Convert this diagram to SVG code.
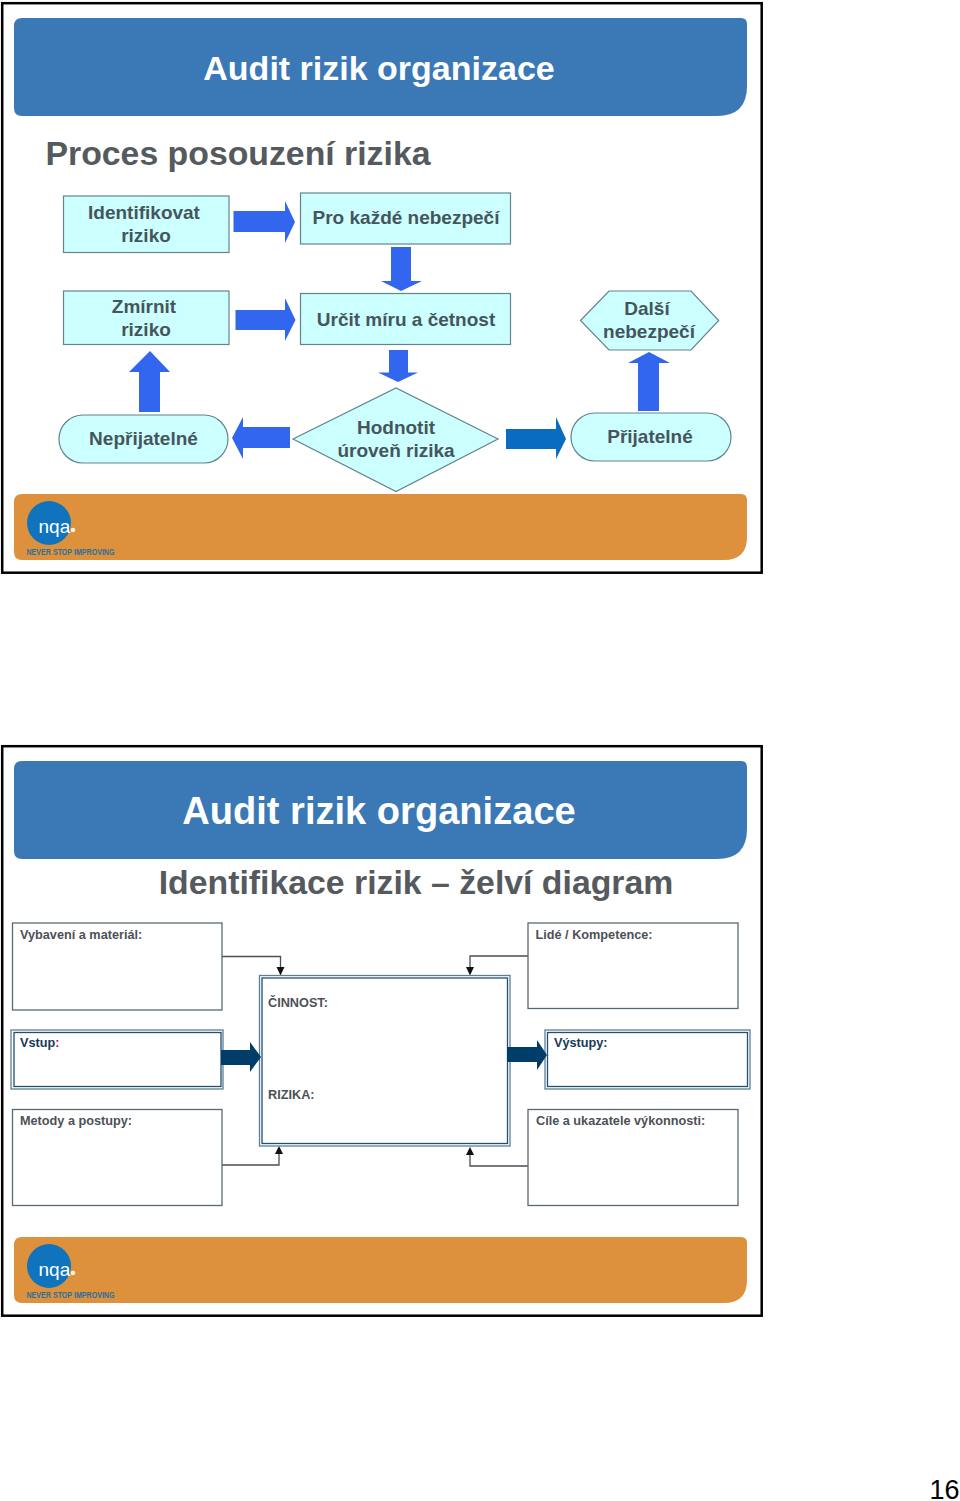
<svg xmlns="http://www.w3.org/2000/svg" width="960" height="1501" viewBox="0 0 960 1501">
<style>
text{font-family:"Liberation Sans",Arial,sans-serif}
.frame{fill:#fff;stroke:#000;stroke-width:2.5}
.hdr{fill:#3a78b6}
.ftr{fill:#dd913c}
.title{fill:#fff;font-weight:700;text-anchor:middle}
.sub{fill:#555a5e;font-weight:700;text-anchor:middle}
.n{fill:#ccffff;stroke:#64848a;stroke-width:1.2}
.t{fill:#46555c;font-size:19px;font-weight:700;text-anchor:middle}
.a{fill:#3366ee}
.d{fill:#003d68}
.b{fill:#fff;stroke:#5a6a74;stroke-width:1.3}
.dbl{fill:#fff;stroke:#1f4f74;stroke-width:1.3}
.dblo{fill:#fff;stroke:#5d7f93;stroke-width:1.3}
.s{fill:#4d5156;font-size:12.700px;font-weight:700}
.c{fill:none;stroke:#4a4f55;stroke-width:1.3}
.logo{fill:#0f74bd}
.lt{fill:#fff;font-size:19px}
.tag{fill:#27709f;font-size:9px;font-weight:700}
</style>
<defs>
<g id="logo">
<circle class="logo" cx="49" cy="523" r="22"/>
<text class="lt" x="38.500" y="533">nqa</text>
<circle cx="73" cy="530" r="2.300" fill="#fff4dc"/>
<text class="tag" x="26.500" y="554.500" textLength="88" lengthAdjust="spacingAndGlyphs">NEVER STOP IMPROVING</text>
</g>
</defs>

<g id="slide-1">
<rect class="frame" x="2.200" y="3.200" width="759.500" height="569.500"/>
<path class="hdr" d="M22 18H741Q747 18 747 24V86Q747 116 717 116H22Q14 116 14 108V26Q14 18 22 18Z"/>
<text class="title" x="379" y="80" font-size="34">Audit rizik organizace</text>
<text class="sub" x="238" y="164.500" font-size="33.800">Proces posouzení rizika</text>
<path class="ftr" d="M22 494H741Q747 494 747 500V537Q747 560 724 560H22Q14 560 14 552V502Q14 494 22 494Z"/>
<use href="#logo"/>
</g>

<g id="connectors-1">
<polygon class="a" points="233.500,211 285,211 285,201 295,222 285,243 285,232 233.500,232"/>
<polygon class="a" points="235.500,310 285,310 285,298 295.500,320 285,341 285,330 235.500,330"/>
<polygon class="a" points="391,247 411,247 411,281 422,281 401,291 381,281 391,281"/>
<polygon class="a" points="389,350 408,350 408,372.500 418,372.500 398,382 378,372.500 389,372.500"/>
<polygon class="a" points="139,412 160,412 160,372 170,372 150,351 129,372 139,372"/>
<polygon class="a" points="290,427 243,427 243,417 232,438 243,459 243,448 290,448"/>
<polygon fill="#0a6cc0" points="506,429 556,429 556,417 566,439 556,459 556,449 506,449"/>
<polygon class="a" points="638,411 659,411 659,363 670,363 649,352 628,363 638,363"/>
</g>

<g id="n-identifikovat"><rect class="n" x="63.500" y="196" width="165.500" height="56.500"/><text class="t" x="144" y="219">Identifikovat</text><text class="t" x="146" y="242">riziko</text></g>
<g id="n-pro-kazde"><rect class="n" x="300.500" y="193" width="210" height="51"/><text class="t" x="406" y="224">Pro každé nebezpečí</text></g>
<g id="n-zmirnit"><rect class="n" x="63.500" y="291" width="165.500" height="53.500"/><text class="t" x="144" y="313">Zmírnit</text><text class="t" x="146" y="336">riziko</text></g>
<g id="n-urcit"><rect class="n" x="300.500" y="293.500" width="210" height="51"/><text class="t" x="406" y="325.500">Určit míru a četnost</text></g>
<g id="n-dalsi"><polygon class="n" points="580.500,320.500 609,291 691,291 718.700,320.500 691,350 609,350"/><text class="t" x="647" y="315">Další</text><text class="t" x="649" y="338">nebezpečí</text></g>
<g id="n-neprijatelne"><rect class="n" x="59" y="415" width="169" height="48" rx="24"/><text class="t" x="143.500" y="445">Nepřijatelné</text></g>
<g id="n-hodnotit"><polygon class="n" points="293,439 396,388 498,439 396,491.500"/><text class="t" x="396" y="434">Hodnotit</text><text class="t" x="396" y="457">úroveň rizika</text></g>
<g id="n-prijatelne"><rect class="n" x="571" y="413" width="160" height="48" rx="24"/><text class="t" x="650" y="443">Přijatelné</text></g>

<g id="slide-2">
<rect class="frame" x="2.200" y="746.200" width="759.500" height="569.500"/>
<path class="hdr" d="M22 761H741Q747 761 747 767V829Q747 859 717 859H22Q14 859 14 851V769Q14 761 22 761Z"/>
<text class="title" x="379" y="824" font-size="38.100">Audit rizik organizace</text>
<text class="sub" x="416" y="893.500" font-size="33.800">Identifikace rizik – želví diagram</text>
<path class="ftr" d="M22 1237H741Q747 1237 747 1243V1280Q747 1303 724 1303H22Q14 1303 14 1295V1245Q14 1237 22 1237Z"/>
<use href="#logo" y="743"/>
</g>

<g id="connectors-2">
<polyline class="c" points="222,956.500 280.500,956.500 280.500,968"/>
<polygon fill="#111" points="276.500,967 284.500,967 280.500,975.500"/>
<polyline class="c" points="528,956 470,956 470,968"/>
<polygon fill="#111" points="466,967 474,967 470,975.500"/>
<polyline class="c" points="222,1165 279,1165 279,1153"/>
<polygon fill="#111" points="275,1154 283,1154 279,1146"/>
<polyline class="c" points="528,1166 470,1166 470,1154"/>
<polygon fill="#111" points="466,1155 474,1155 470,1147"/>
</g>

<g id="n-vybaveni"><rect class="b" x="12.500" y="923" width="209.500" height="87"/><text class="s" x="20" y="939">Vybavení a materiál:</text></g>
<g id="n-lide"><rect class="b" x="528" y="923" width="210" height="85.500"/><text class="s" x="535.500" y="939">Lidé / Kompetence:</text></g>
<g id="n-vstup"><rect class="dblo" x="11" y="1030" width="212" height="59"/><rect class="dbl" x="14" y="1032.500" width="207" height="54"/><text class="s" x="20" y="1047"><tspan style="fill:#16395a">Vstup</tspan><tspan style="fill:#d0202a">:</tspan></text></g>
<g id="n-vystupy"><rect class="dblo" x="545" y="1030" width="205" height="59"/><rect class="dbl" x="547.500" y="1032.500" width="200" height="54"/><text class="s" x="554" y="1047" style="fill:#16395a">Výstupy:</text></g>
<g id="n-metody"><rect class="b" x="12.500" y="1109.500" width="209.500" height="96"/><text class="s" x="20" y="1125">Metody a postupy:</text></g>
<g id="n-cile"><rect class="b" x="528" y="1109.500" width="210" height="96"/><text class="s" x="536" y="1125">Cíle a ukazatele výkonnosti:</text></g>
<g id="n-cinnost"><rect class="dblo" x="259.500" y="975.500" width="250.500" height="170.500"/><rect class="dbl" x="262" y="978" width="245.500" height="165.500"/><text class="s" x="268" y="1007">ČINNOST:</text><text class="s" x="268" y="1099">RIZIKA:</text></g>

<g id="connectors-2-thick">
<polygon class="d" points="221,1050 250,1050 250,1042 261,1057 250,1072 250,1065 221,1065"/>
<polygon class="d" points="507,1047 537,1047 537,1040 547,1055 537,1070 537,1062 507,1062"/>
</g>

<text x="959.500" y="1499" font-size="27" fill="#000" text-anchor="end">16</text>
</svg>
